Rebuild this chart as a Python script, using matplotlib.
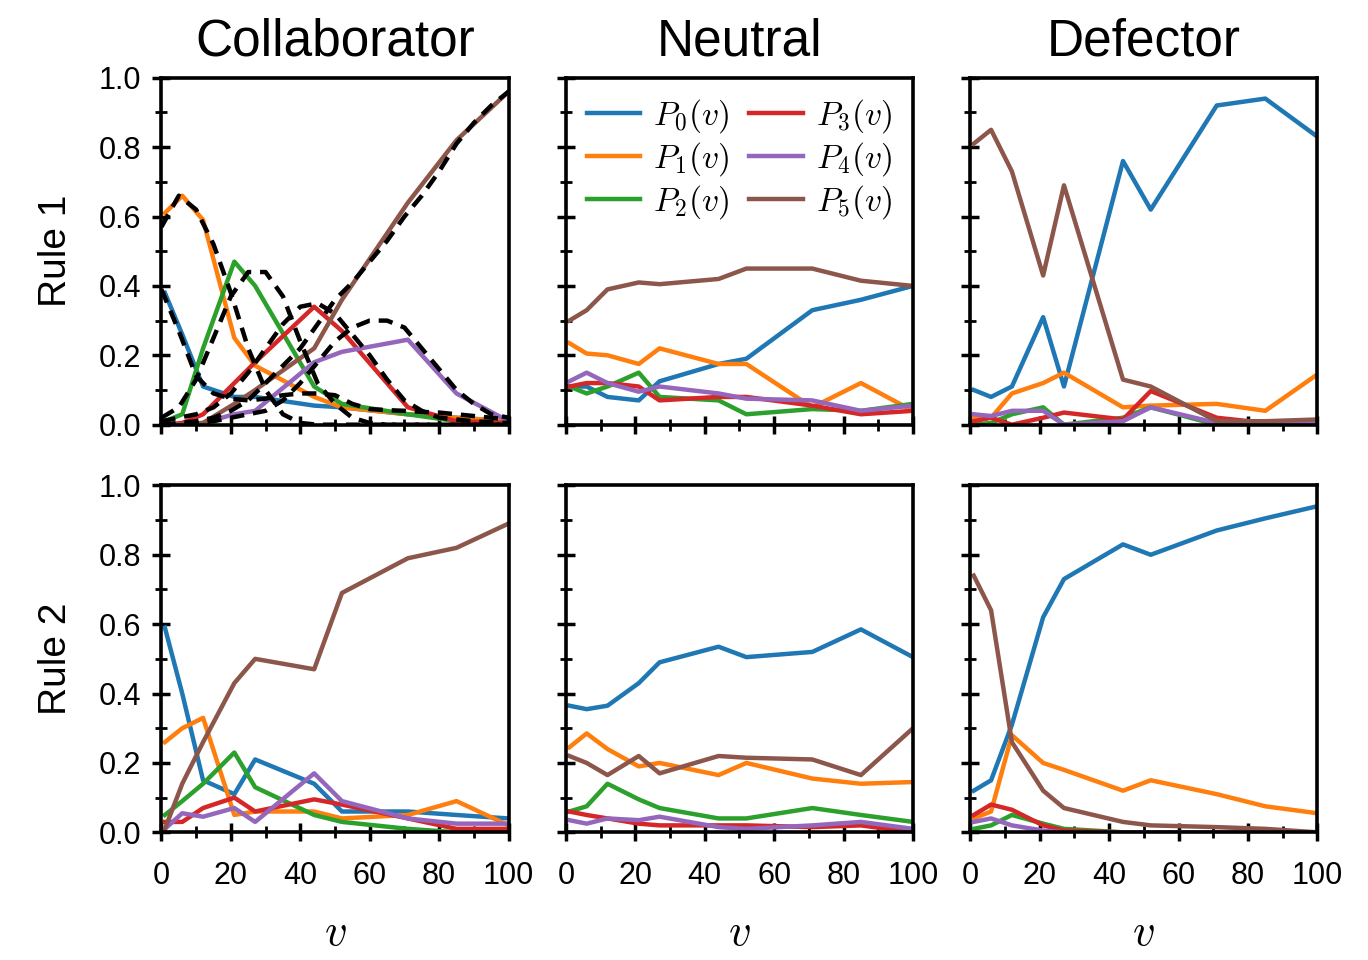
import matplotlib
matplotlib.use("Agg")
import matplotlib.pyplot as plt
import numpy as np
from matplotlib.ticker import MultipleLocator

plt.rcParams['font.family'] = ['Liberation Sans', 'DejaVu Sans']
plt.rcParams['mathtext.fontset'] = 'cm'

COLORS = ['#1f77b4', '#ff7f0e', '#2ca02c', '#d62728', '#9467bd', '#8c564b']
titles = ['Collaborator', 'Neutral', 'Defector']
rows = ['Rule 1', 'Rule 2']

v = [1, 6, 12, 21, 27, 44, 52, 71, 85, 100]

# Rule 1
r1_collab = [
    [0.38, 0.26, 0.11, 0.08, 0.08, 0.055, 0.05, 0.03, 0.02, 0.01],
    [0.61, 0.66, 0.59, 0.25, 0.17, 0.08, 0.05, 0.03, 0.02, 0.01],
    [0.01, 0.03, 0.22, 0.47, 0.40, 0.11, 0.06, 0.03, 0.01, 0.005],
    [0.0, 0.005, 0.03, 0.12, 0.18, 0.34, 0.27, 0.05, 0.01, 0.005],
    [0.0, 0.0, 0.005, 0.03, 0.04, 0.18, 0.21, 0.245, 0.09, 0.01],
    [0.0, 0.0, 0.005, 0.06, 0.10, 0.22, 0.36, 0.64, 0.82, 0.96],
]
r1_neutral = [
    [0.11, 0.11, 0.08, 0.07, 0.125, 0.175, 0.19, 0.33, 0.36, 0.40],
    [0.235, 0.205, 0.20, 0.175, 0.22, 0.175, 0.175, 0.05, 0.12, 0.04],
    [0.11, 0.09, 0.11, 0.15, 0.08, 0.07, 0.03, 0.045, 0.04, 0.06],
    [0.11, 0.12, 0.12, 0.11, 0.07, 0.08, 0.08, 0.055, 0.03, 0.04],
    [0.125, 0.15, 0.12, 0.095, 0.11, 0.09, 0.075, 0.07, 0.04, 0.055],
    [0.30, 0.33, 0.39, 0.41, 0.405, 0.42, 0.45, 0.45, 0.415, 0.40],
]
r1_defect = [
    [0.10, 0.08, 0.11, 0.31, 0.11, 0.76, 0.62, 0.92, 0.94, 0.83],
    [0.02, 0.02, 0.09, 0.12, 0.15, 0.05, 0.055, 0.06, 0.04, 0.145],
    [0.0, 0.005, 0.03, 0.05, 0.0, 0.02, 0.05, 0.0, 0.0, 0.0],
    [0.01, 0.02, 0.0, 0.02, 0.035, 0.015, 0.097, 0.02, 0.005, 0.005],
    [0.03, 0.025, 0.04, 0.04, 0.0, 0.01, 0.05, 0.005, 0.005, 0.005],
    [0.81, 0.85, 0.73, 0.43, 0.69, 0.13, 0.11, 0.01, 0.01, 0.015],
]
# Rule 2
r2_collab = [
    [0.59, 0.40, 0.15, 0.11, 0.21, 0.14, 0.06, 0.06, 0.05, 0.04],
    [0.26, 0.30, 0.33, 0.05, 0.06, 0.06, 0.04, 0.05, 0.09, 0.02],
    [0.05, 0.09, 0.14, 0.23, 0.13, 0.05, 0.03, 0.01, 0.0, 0.0],
    [0.03, 0.03, 0.07, 0.10, 0.06, 0.095, 0.08, 0.04, 0.01, 0.01],
    [0.01, 0.055, 0.045, 0.07, 0.03, 0.17, 0.09, 0.04, 0.025, 0.025],
    [0.01, 0.14, 0.26, 0.43, 0.50, 0.47, 0.69, 0.79, 0.82, 0.89],
]
r2_neutral = [
    [0.365, 0.355, 0.365, 0.43, 0.49, 0.535, 0.505, 0.52, 0.585, 0.505],
    [0.245, 0.285, 0.24, 0.19, 0.20, 0.165, 0.20, 0.155, 0.14, 0.145],
    [0.06, 0.075, 0.14, 0.095, 0.07, 0.04, 0.04, 0.07, 0.05, 0.03],
    [0.06, 0.05, 0.04, 0.025, 0.02, 0.02, 0.02, 0.015, 0.02, 0.0],
    [0.035, 0.025, 0.04, 0.035, 0.045, 0.015, 0.01, 0.02, 0.03, 0.01],
    [0.22, 0.20, 0.165, 0.22, 0.17, 0.22, 0.215, 0.21, 0.165, 0.30],
]
r2_defect = [
    [0.12, 0.15, 0.31, 0.62, 0.73, 0.83, 0.80, 0.87, 0.905, 0.94],
    [0.04, 0.06, 0.28, 0.20, 0.18, 0.12, 0.15, 0.11, 0.075, 0.055],
    [0.01, 0.02, 0.05, 0.025, 0.01, 0.0, 0.0, 0.0, 0.0, 0.0],
    [0.05, 0.08, 0.065, 0.02, 0.005, 0.0, 0.0, 0.0, 0.0, 0.0],
    [0.03, 0.04, 0.02, 0.005, 0.0, 0.0, 0.0, 0.0, 0.0, 0.0],
    [0.74, 0.64, 0.26, 0.12, 0.07, 0.03, 0.02, 0.015, 0.01, 0.0],
]

# model curves (dashed) for Rule 1 collaborator
v_fit = [0, 5, 10, 15, 20, 25, 30, 35, 40, 45, 50, 55, 60, 65, 70, 75, 80, 85, 90, 95, 100]
fit = [
    [0.39, 0.27, 0.14, 0.09, 0.075, 0.07, 0.075, 0.085, 0.09, 0.09, 0.085, 0.06, 0.045, 0.042, 0.04, 0.037, 0.035, 0.03, 0.025, 0.02, 0.015],
    [0.57, 0.66, 0.62, 0.52, 0.38, 0.22, 0.10, 0.03, 0.005, 0.0, 0.0, 0.0, 0.0, 0.0, 0.0, 0.0, 0.0, 0.0, 0.0, 0.0, 0.0],
    [0.02, 0.05, 0.13, 0.25, 0.37, 0.44, 0.44, 0.37, 0.24, 0.12, 0.06, 0.02, 0.005, 0.0, 0.0, 0.0, 0.0, 0.0, 0.0, 0.0, 0.0],
    [0.01, 0.02, 0.03, 0.05, 0.09, 0.15, 0.22, 0.29, 0.34, 0.35, 0.32, 0.26, 0.20, 0.13, 0.07, 0.04, 0.02, 0.015, 0.01, 0.007, 0.005],
    [0.0, 0.0, 0.005, 0.01, 0.02, 0.03, 0.04, 0.07, 0.12, 0.18, 0.24, 0.28, 0.30, 0.30, 0.28, 0.22, 0.16, 0.10, 0.06, 0.03, 0.02],
    [0.0, 0.005, 0.01, 0.02, 0.04, 0.07, 0.12, 0.17, 0.22, 0.29, 0.36, 0.41, 0.47, 0.53, 0.60, 0.66, 0.73, 0.81, 0.87, 0.92, 0.96],
]

data = [[r1_collab, r1_neutral, r1_defect], [r2_collab, r2_neutral, r2_defect]]

fig, axes = plt.subplots(2, 3, figsize=(13.68, 9.6), dpi=100)
fig.subplots_adjust(left=0.118, right=0.963, top=0.919, bottom=0.133, wspace=0.165, hspace=0.175)

for r in range(2):
    for c in range(3):
        ax = axes[r, c]
        for k in range(6):
            ax.plot(v, data[r][c][k], color=COLORS[k], lw=3.2, label=r'$P_{%d}(v)$' % k)
        if r == 0 and c == 0:
            for k in range(6):
                ax.plot(v_fit, fit[k], color='black', lw=3.2, ls=(0, (3.2, 2.0)))
        ax.set_xlim(0, 100)
        ax.set_ylim(0, 1)
        ax.xaxis.set_major_locator(MultipleLocator(20))
        ax.xaxis.set_minor_locator(MultipleLocator(10))
        ax.yaxis.set_major_locator(MultipleLocator(0.2))
        ax.yaxis.set_minor_locator(MultipleLocator(0.1))
        ax.tick_params(which='major', direction='inout', length=13, width=2.5, labelsize=22, pad=8,
                       top=False, right=False)
        ax.tick_params(axis='x', which='major', pad=14)
        ax.tick_params(which='minor', direction='inout', length=8, width=2.0, top=False, right=False)
        for s in ax.spines.values():
            s.set_linewidth(2.6)
        if c == 0:
            ax.yaxis.set_major_formatter(matplotlib.ticker.FormatStrFormatter('%.1f'))
            ax.set_ylabel(rows[r], fontsize=28, labelpad=18)
        else:
            ax.set_yticklabels([])
        if r == 1:
            ax.set_xlabel(r'$v$', fontsize=32, labelpad=16)
        else:
            ax.set_xticklabels([])
            ax.set_title(titles[c], fontsize=37, pad=16)

axes[0, 1].legend(ncol=2, frameon=False, fontsize=24, loc='upper center', bbox_to_anchor=(0.5, 1.03),
                  handlelength=1.6, columnspacing=0.6, handletextpad=0.4, labelspacing=0.15)

fig.savefig('out.png')
